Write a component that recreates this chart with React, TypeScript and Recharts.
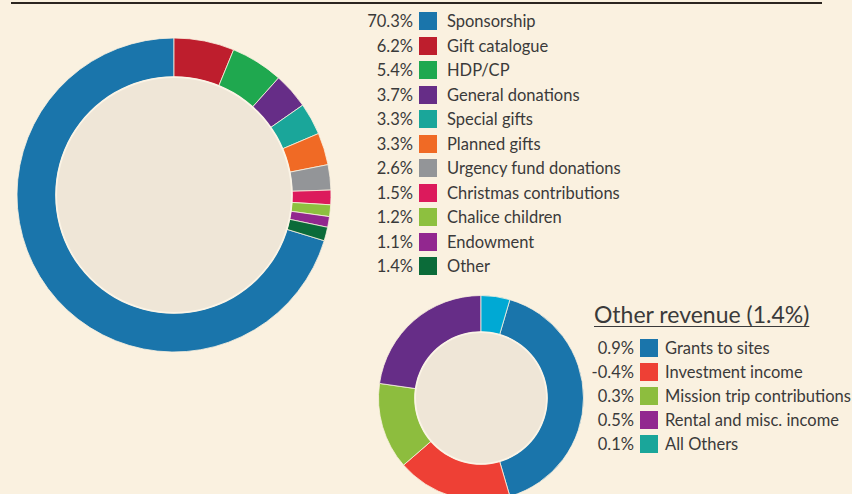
import { PieChart, Pie, Cell } from 'recharts';

document.body.style.margin = '0';

const bigNames = [
  'Sponsorship',
  'Gift catalogue',
  'HDP/CP',
  'General donations',
  'Special gifts',
  'Planned gifts',
  'Urgency fund donations',
  'Christmas contributions',
  'Chalice children',
  'Endowment',
  'Other'
];
const bigValues = [70.3, 6.2, 5.4, 3.7, 3.3, 3.3, 2.6, 1.5, 1.2, 1.1, 1.4];
const bigColors = [
  '#1A75AB', '#BE1E2D', '#1FA84F', '#662D87', '#1AA69A', '#F06A25',
  '#939598', '#DC1A5C', '#8DC03F', '#92278F', '#0B6B39'
];

const otherTitle = 'Other revenue (1.4%)';
const otherNames = ['Grants to sites', 'Investment income', 'Mission trip contributions', 'Rental and misc. income', 'All Others'];
const otherValues = [0.9, -0.4, 0.3, 0.5, 0.1];
const otherLegendColors = ['#1A75AB', '#EE4035', '#8DBD3E', '#92278F', '#1AA69A'];
const otherRingColors = ['#1A75AB', '#EE4035', '#8DBD3E', '#662D87', '#00A9D4'];

const BG = '#FAF1E0';
const HOLE = '#EFE6D7';
const RIM = '#FBF4E6';
const TEXT = '#3A3A3A';

const bigData = bigNames.map((name, i) => ({ name, value: bigValues[i] }));
const otherData = otherNames.map((name, i) => ({ name, value: Math.abs(otherValues[i]) }));
const bigTotal = bigValues.reduce((a, b) => a + b, 0);
const otherTotal = otherData.reduce((a, d) => a + d.value, 0);

// sponsorship ends at 12 o'clock, the rest run clockwise from there
const bigStart = 90 + (360 * bigValues[0]) / bigTotal;
// "All Others" sits just right of 12 o'clock, grants follow clockwise
const otherStart = 90 - (360 * otherData[otherData.length - 1].value) / otherTotal;

const fmt = (v: number) => `${v.toFixed(1)}%`;

function LegendRow({ top, left, gap, pct, color, label }: { top: number; left: number; gap: number; pct: string; color: string; label: string }) {
  return (
    <div style={{ position: 'absolute', top: top - 9, left, height: 18, display: 'flex', alignItems: 'center' }}>
      <div style={{ width: 60, textAlign: 'right', fontSize: 16.5, lineHeight: '18px', color: TEXT }}>{pct}</div>
      <div style={{ width: 18, height: 18, background: color, marginLeft: 6 }} />
      <div style={{ marginLeft: gap, fontSize: 16.5, lineHeight: '18px', color: TEXT, whiteSpace: 'nowrap' }}>{label}</div>
    </div>
  );
}

function Hole({ cx, cy, r }: { cx: number; cy: number; r: number }) {
  return (
    <>
      <Pie
        data={[{ name: 'hole', value: 1 }]}
        dataKey="value"
        cx={cx}
        cy={cy}
        innerRadius={0}
        outerRadius={r}
        fill={HOLE}
        stroke="none"
        isAnimationActive={false}
      />
      <Pie
        data={[{ name: 'rim', value: 1 }]}
        dataKey="value"
        cx={cx}
        cy={cy}
        innerRadius={r - 1}
        outerRadius={r + 0.8}
        fill={RIM}
        stroke="none"
        isAnimationActive={false}
      />
    </>
  );
}

export default function App() {
  return (
    <div style={{ position: 'relative', width: 852, height: 494, background: BG, overflow: 'hidden', fontFamily: 'Lato, "Noto Sans", sans-serif' }}>
      <div style={{ position: 'absolute', left: 11, top: 2, width: 811, height: 2, background: '#2B2520' }} />
      <PieChart width={852} height={494} margin={{ top: 0, right: 0, bottom: 0, left: 0 }} style={{ position: 'absolute', left: 0, top: 0 }}>
        <Pie
          data={bigData}
          dataKey="value"
          cx={174}
          cy={195}
          innerRadius={118}
          outerRadius={157}
          startAngle={bigStart}
          endAngle={bigStart - 360}
          stroke={BG}
          strokeWidth={0.8}
          isAnimationActive={false}
        >
          {bigData.map((d, i) => (
            <Cell key={d.name} fill={bigColors[i]} />
          ))}
        </Pie>
        {Hole({ cx: 174, cy: 195, r: 118 })}
        <Pie
          data={otherData}
          dataKey="value"
          cx={481}
          cy={398}
          innerRadius={66}
          outerRadius={102.5}
          startAngle={otherStart}
          endAngle={otherStart - 360}
          stroke={BG}
          strokeWidth={0.8}
          isAnimationActive={false}
        >
          {otherData.map((d, i) => (
            <Cell key={d.name} fill={otherRingColors[i]} />
          ))}
        </Pie>
        {Hole({ cx: 481, cy: 398, r: 66 })}
      </PieChart>

      {bigNames.map((name, i) => (
        <LegendRow key={name} top={21 + i * 24.5} left={353} gap={10} pct={fmt(bigValues[i])} color={bigColors[i]} label={name} />
      ))}

      <div
        style={{
          position: 'absolute',
          left: 594,
          top: 300,
          fontSize: 23,
          lineHeight: '28px',
          color: TEXT,
          textDecoration: 'underline',
          textUnderlineOffset: 3,
          textDecorationThickness: 1,
          whiteSpace: 'nowrap'
        }}
      >
        {otherTitle}
      </div>

      {otherNames.map((name, i) => (
        <LegendRow key={name} top={348 + i * 24} left={574} gap={7} pct={fmt(otherValues[i])} color={otherLegendColors[i]} label={name} />
      ))}
    </div>
  );
}
